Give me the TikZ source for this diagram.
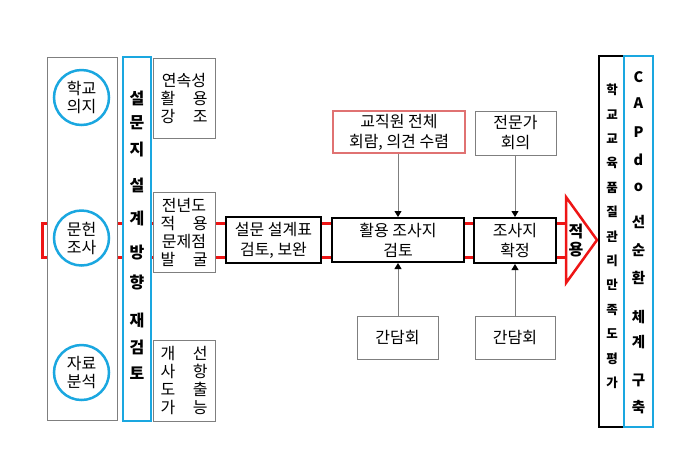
\documentclass[tikz,border=0pt]{standalone}
\usepackage{fontspec}
\setmainfont{Noto Sans CJK KR}
\usetikzlibrary{arrows.meta}
\definecolor{cblue}{HTML}{1AA7E0}
\definecolor{cred}{HTML}{EE1515}
\definecolor{cpink}{HTML}{E07272}
\definecolor{cgray}{HTML}{7F7F7F}
\newcommand\jl[1]{\makebox[47pt][s]{#1}}
\begin{document}
\begin{tikzpicture}[x=1pt,y=-1pt,
  bx/.style 2 args={rectangle, inner sep=0pt, fill=white, minimum width=#1pt, minimum height=#2pt},
  thinbox/.style={draw=cgray, line width=1pt},
  thickbox/.style={draw=black, line width=2pt},
  bluebox/.style={draw=cblue, line width=2.5pt},
  txt/.style={font=\fontsize{16}{20}\selectfont, align=center},
  small/.style={font=\fontsize{16}{18}\selectfont, align=center},
  circ/.style={circle, draw=cblue, line width=2.5pt, fill=white, minimum size=55pt, inner sep=0pt, font=\fontsize{16}{18}\selectfont, align=center},
  vch/.style={inner sep=0pt, font=\fontsize{16}{16}\bfseries\selectfont},
  rch/.style={inner sep=0pt, font=\fontsize{12.5}{12}\bfseries\selectfont},
  cch/.style={inner sep=0pt, font=\fontsize{14.5}{14}\bfseries\selectfont},
  redline/.style={draw=cred, line width=3pt},
  conn/.style={draw=cgray, line width=1pt, -{Triangle[color=black, length=6pt, width=7pt]}}
]
\useasboundingbox (0,0) rectangle (700,475);
% red flow lines (behind)
\coordinate (lt) at (42,223);
\coordinate (lb) at (42,257);
\coordinate (rt) at (566,223);
\coordinate (rb) at (566,257);
\draw[redline] (rt) -- (lt) -- (lb) -- (rb);

% left column
\node[bx={70}{363}, thinbox] (big) at (82,238.5) {};
\node[circ] (c1) at (81.5,97.5) {학교\\의지};
\node[circ] (c2) at (81.5,238) {문헌\\조사};
\node[circ] (c3) at (81.5,372.5) {자료\\분석};

% blue vertical box
\node[bx={28}{364}, bluebox] (bl) at (137,239) {};
\foreach \c/\y [count=\i] in {설/98, 문/123, 지/150, 설/185, 계/218, 방/253, 향/282, 재/320, 검/347, 토/373}
  \node[vch] (b\i) at (137,\y) {\c};

% small boxes
\node[bx={62}{80}, thinbox, small] (s1) at (184,98) {연속성\\\jl{활 용}\\\jl{강 조}};
\node[bx={62}{80}, thinbox, small] (s2) at (184,232) {전년도\\\jl{적 용}\\문제점\\\jl{발 굴}};
\node[bx={62}{81}, thinbox, small] (s3) at (184,380.5) {\jl{개 선}\\\jl{사 항}\\\jl{도 출}\\\jl{가 능}};

% process boxes
\node[bx={95}{46}, thickbox, txt] (p1) at (273.5,240) {설문 설계표\\검토, 보완};
\node[bx={132}{44}, thickbox, txt] (p2) at (398,240) {활용 조사지\\검토};
\node[bx={82}{45}, thickbox, txt] (p3) at (515,240.5) {조사지\\확정};

\node[bx={132}{42}, draw=cpink, line width=2pt, txt] (t1) at (399,132) {교직원 전체\\회람, 의견 수렴};
\node[bx={81}{44}, thinbox, txt] (t2) at (515.5,133) {전문가\\회의};
\node[bx={81}{43}, thinbox, txt] (g1) at (397.5,337.5) {간담회};
\node[bx={80}{43}, thinbox, txt] (g2) at (515,337.5) {간담회};

\draw[conn] (t1.south -| p2.north) -- (p2.north);
\draw[conn] (g1.north -| p2.south) -- (p2.south);
\draw[conn] (t2.south -| p3.north) -- (p3.north);
\draw[conn] (g2.north -| p3.south) -- (p3.south);

% application arrow
\coordinate (ta) at (566,197);
\coordinate (tb) at (597,240);
\coordinate (tc) at (566,283);
\draw[cred, line width=2.5pt, fill=white, line join=miter] (ta) -- (tb) -- (tc) -- cycle;
\node[vch] (ap1) at (576,232) {적};
\node[vch] (ap2) at (576,250) {용};

% right columns
\node[bx={25}{371}, draw=black, line width=1.2pt] (r1) at (611.5,241.5) {};
\foreach \c [count=\i] in {학,교,교,육,품,질,관,리,만,족,도,평,가}
  \node[rch] (q\i) at (612,{90+24.4*(\i-1)}) {\c};
\node[bx={29}{371}, bluebox] (r2) at (638.5,241.5) {};
\foreach \c/\y [count=\i] in {C/77, A/103, P/132, d/160, o/187, 선/222, 순/250, 환/278, 체/317, 계/342, 구/380, 축/407}
  \node[cch] (k\i) at (638.5,\y) {\c};
\end{tikzpicture}
\end{document}
